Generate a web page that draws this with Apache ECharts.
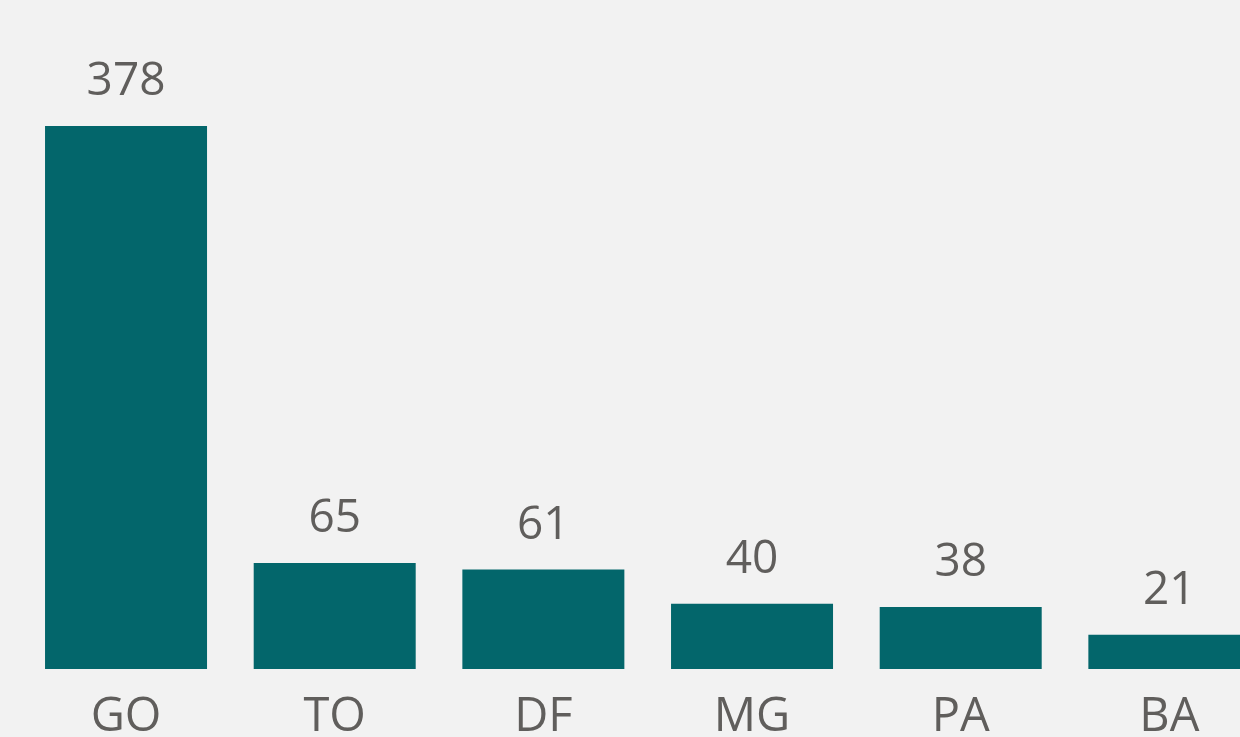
<!DOCTYPE html>
<html>
<head>
<meta charset="utf-8">
<script src="https://cdn.jsdelivr.net/npm/echarts@6/dist/echarts.min.js"></script>
<style>
html,body{margin:0;padding:0;background:#f2f2f2;}
#main{width:1240px;height:737px;}
</style>
</head>
<body>
<div id="main"></div>
<script>
const categories = ['GO', 'TO', 'DF', 'MG', 'PA', 'BA'];
const values = [378, 65, 61, 40, 38, 21];
const axisMax = 333;

const chart = echarts.init(document.getElementById('main'), null, {renderer: 'canvas'});
chart.setOption({
  backgroundColor: '#f2f2f2',
  animation: false,
  grid: {left: 21.7, width: 1252, top: 126, height: 543, containLabel: false, outerBoundsMode: 'none'},
  xAxis: {
    type: 'category',
    data: categories,
    axisLine: {show: false},
    axisTick: {show: false},
    axisLabel: {
      color: '#605e5c',
      fontFamily: 'Open Sans',
      fontSize: 47,
      margin: 25,
      interval: 0
    }
  },
  yAxis: {
    type: 'value',
    min: 0,
    max: axisMax,
    show: false,
    splitLine: {show: false}
  },
  series: [{
    type: 'bar',
    data: values,
    barWidth: 162,
    clip: true,
    itemStyle: {color: '#03666b'},
    label: {
      show: true,
      position: 'top',
      distance: 21,
      color: '#605e5c',
      fontFamily: 'Open Sans',
      fontSize: 46
    }
  }]
});
</script>
</body>
</html>
